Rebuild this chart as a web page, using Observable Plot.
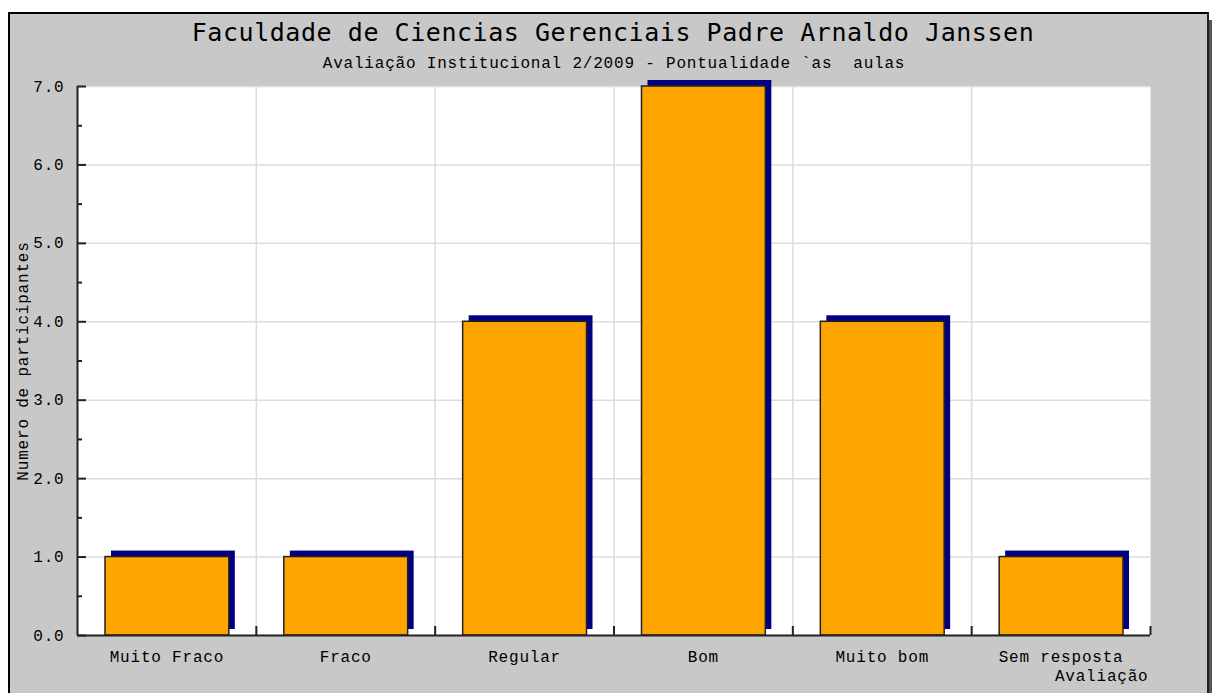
<!DOCTYPE html>
<html><head><meta charset="utf-8">
<script src="https://cdn.jsdelivr.net/npm/d3@7"></script>
<script src="https://cdn.jsdelivr.net/npm/@observablehq/plot@0.6"></script>
<style>
html,body{margin:0;padding:0;background:#fff;}
#wrap{position:relative;width:1212px;height:693px;overflow:hidden;font-family:"Liberation Mono",monospace;}
#panel{position:absolute;left:8px;top:12px;width:1197px;height:700px;background:#c8c8c8;border-left:2px solid #000;border-top:2px solid #000;border-right:2px solid #222;box-shadow:4px 8px 0 0 #555;}
#title{position:absolute;left:7px;width:1212px;top:18px;text-align:center;font-size:25px;letter-spacing:0.55px;color:#000;font-family:"DejaVu Sans Mono",monospace;}
#subtitle{position:absolute;left:0;width:1228px;top:55px;text-align:center;font-size:16px;letter-spacing:0.8px;color:#000;white-space:pre;}
#chart{position:absolute;left:0;top:0;}
</style></head>
<body>
<div id="wrap">
  <div id="panel"></div>
  <div id="title">Faculdade de Ciencias Gerenciais Padre Arnaldo Janssen</div>
  <div id="subtitle">Avaliação Institucional 2/2009 - Pontualidade `as  aulas</div>
  <div id="chart"></div>
</div>
<script>
const categories = ["Muito Fraco","Fraco","Regular","Bom","Muito bom","Sem resposta"];
const values = [1, 1, 4, 7, 4, 1];
const yTicks = [0, 1, 2, 3, 4, 5, 6, 7];
const yMinorTicks = [0.5, 1.5, 2.5, 3.5, 4.5, 5.5, 6.5];
const yLabel = "Numero de participantes";
const xLabel = "Avaliação";

const data = categories.map((c, i) => ({cat: c, i0: i, i1: i + 1, v: values[i]}));
const bounds = d3.range(1, categories.length + 1);
const centers = d3.range(categories.length).map(i => i + 0.5);
const blank = () => "";

const chart = Plot.plot({
  width: 1212,
  height: 693,
  marginLeft: 77,
  marginRight: 62,
  marginTop: 86,
  marginBottom: 58,
  style: {background: "transparent", fontFamily: "Liberation Mono, monospace", fontSize: "16px", letterSpacing: "0.8px", color: "#000"},
  x: {domain: [0, categories.length], axis: null},
  y: {domain: [0, 7], axis: null},
  marks: [
    Plot.frame({fill: "white", stroke: null}),
    Plot.gridY(yTicks.slice(1), {stroke: "#dcdcdc", strokeOpacity: 1, strokeWidth: 1.5}),
    Plot.gridX(bounds.slice(0, -1), {stroke: "#dcdcdc", strokeOpacity: 1, strokeWidth: 1.5}),
    Plot.rectY(data, {x1: "i0", x2: "i1", y: "v", insetLeft: 28, insetRight: 27, dx: 6, dy: -6, fill: "#000080"}),
    Plot.rectY(data, {x1: "i0", x2: "i1", y: "v", insetLeft: 28, insetRight: 27, fill: "#ffa500", stroke: "#222", strokeWidth: 1.5}),
    Plot.ruleX([0], {stroke: "#222", strokeWidth: 2}),
    Plot.ruleY([0], {stroke: "#222", strokeWidth: 2}),
    Plot.axisY(yTicks, {anchor: "left", tickSize: -9, tickFormat: blank, label: null, stroke: "#222", strokeWidth: 2}),
    Plot.axisY(yMinorTicks, {anchor: "left", tickSize: -5, tickFormat: blank, label: null, stroke: "#222", strokeWidth: 2}),
    Plot.axisY(yTicks, {anchor: "left", tickSize: 0, tickPadding: 13, tickFormat: d => d.toFixed(1), label: null, fontSize: 16, fill: "#000"}),
    Plot.axisX(bounds, {anchor: "bottom", tickSize: -9, tickFormat: blank, label: null, stroke: "#222", strokeWidth: 2}),
    Plot.axisX(centers, {anchor: "bottom", tickSize: 0, tickPadding: 15, tickFormat: d => categories[Math.floor(d)], label: null, fontSize: 16, fill: "#000"}),
    Plot.text([yLabel], {frameAnchor: "left", textAnchor: "middle", rotate: -90, dx: -55, fontSize: 16, fill: "#000"}),
    Plot.text([xLabel], {frameAnchor: "bottom-right", textAnchor: "end", dx: -2, dy: 45, fontSize: 16, fill: "#000"})
  ]
});
document.getElementById("chart").appendChild(chart);
</script>
</body></html>
